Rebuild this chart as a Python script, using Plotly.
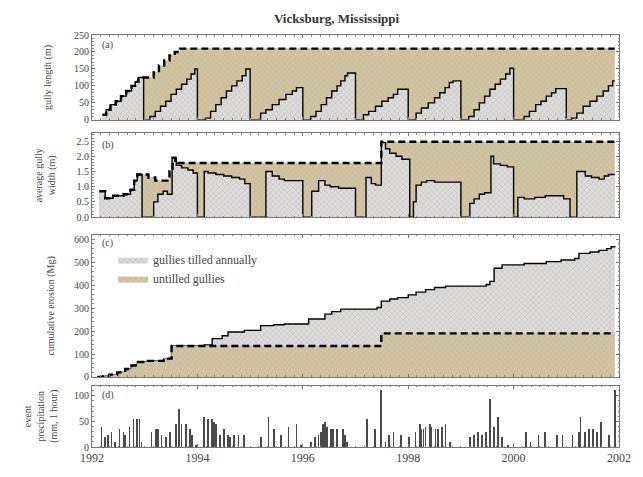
import plotly.graph_objects as go

# ---------------- data ----------------
# (a) gully length (m)
len_untilled_t = [1992.20, 1992.27, 1992.35, 1992.45, 1992.55, 1992.65, 1992.75, 1992.82, 1992.88,
                  1993.17, 1993.27, 1993.37, 1993.47, 1993.57, 1993.67, 2001.92]
len_untilled_v = [15, 30, 45, 55, 70, 85, 100, 112, 125,
                  140, 160, 175, 190, 200, 210, 210]

len_tilled_t = [1992.20, 1992.27, 1992.35, 1992.45, 1992.55, 1992.65, 1992.75, 1992.82, 1992.88, 1992.98,
                1993.10, 1993.20, 1993.30, 1993.40, 1993.50, 1993.60, 1993.70, 1993.80, 1993.88, 1993.95, 1994.00,
                1994.15, 1994.25, 1994.35, 1994.45, 1994.55, 1994.65, 1994.75, 1994.85, 1994.92, 1995.00,
                1995.20, 1995.30, 1995.42, 1995.55, 1995.68, 1995.80, 1995.88, 1996.00,
                1996.15, 1996.25, 1996.35, 1996.45, 1996.55, 1996.65, 1996.72, 1996.80, 1996.85, 1997.00,
                1997.15, 1997.25, 1997.38, 1997.50, 1997.62, 1997.72, 1997.80, 1998.00,
                1998.15, 1998.25, 1998.38, 1998.50, 1998.60, 1998.70, 1998.78, 1998.85, 1999.00,
                1999.15, 1999.25, 1999.35, 1999.45, 1999.55, 1999.65, 1999.75, 1999.85, 1999.93, 2000.00,
                2000.20, 2000.30, 2000.42, 2000.52, 2000.62, 2000.72, 2000.80, 2001.00,
                2001.10, 2001.20, 2001.32, 2001.45, 2001.58, 2001.70, 2001.80, 2001.88, 2001.92]
len_tilled_v = [15, 30, 45, 55, 70, 85, 100, 112, 125, 0,
                10, 25, 40, 55, 75, 90, 105, 120, 135, 150, 0,
                5, 25, 45, 65, 85, 100, 115, 130, 150, 0,
                20, 30, 45, 60, 75, 85, 95, 0,
                10, 25, 45, 65, 85, 100, 115, 130, 138, 0,
                15, 25, 40, 55, 65, 75, 90, 0,
                20, 35, 50, 65, 80, 95, 110, 115, 0,
                10, 30, 50, 70, 90, 105, 120, 135, 152, 0,
                10, 25, 45, 55, 70, 80, 92, 0,
                5, 20, 40, 55, 70, 85, 100, 115, 115]

# (b) average gully width (m)
wid_untilled_t = [1992.14, 1992.25, 1992.40, 1992.60, 1992.73, 1992.80, 1992.86, 1993.07, 1993.20,
                  1993.47, 1993.53, 1993.58, 1993.63, 1997.49, 2001.92]
wid_untilled_v = [0.85, 0.62, 0.70, 0.75, 0.90, 1.20, 1.40, 1.30, 1.20,
                  1.50, 1.95, 1.85, 1.78, 2.48, 2.48]

wid_tilled_t = [1992.14, 1992.25, 1992.40, 1992.60, 1992.73, 1992.80, 1992.86, 1992.95,
                1993.17, 1993.25, 1993.35, 1993.43, 1993.52, 1993.60, 1993.70, 1993.82, 1993.92, 1994.00,
                1994.13, 1994.20, 1994.35, 1994.50, 1994.65, 1994.80, 1994.90, 1995.00,
                1995.30, 1995.42, 1995.55, 1995.65, 1996.00,
                1996.17, 1996.30, 1996.42, 1996.52, 1996.68, 1997.00,
                1997.20, 1997.30, 1997.38, 1997.49, 1997.57, 1997.65, 1997.77, 1997.88, 1998.03,
                1998.10, 1998.15, 1998.25, 1998.35, 1998.50, 1999.00,
                1999.17, 1999.25, 1999.35, 1999.45, 1999.57, 1999.62, 1999.75, 1999.88, 2000.00,
                2000.08, 2000.20, 2000.40, 2000.60, 2000.95, 2001.07,
                2001.20, 2001.36, 2001.48, 2001.62, 2001.72, 2001.80, 2001.92]
wid_tilled_v = [0.85, 0.62, 0.70, 0.75, 0.90, 1.20, 1.40, 0,
                0.50, 0.75, 0.85, 0.75, 1.95, 1.70, 1.62, 1.55, 1.45, 0,
                1.50, 1.45, 1.40, 1.35, 1.30, 1.25, 1.10, 0,
                1.50, 1.35, 1.25, 1.20, 0,
                0.85, 1.20, 1.05, 1.00, 0.95, 0,
                1.30, 1.10, 1.05, 2.45, 2.25, 2.10, 2.00, 1.90, 0,
                0.50, 1.05, 1.15, 1.20, 1.15, 0,
                0.45, 0.60, 0.75, 0.80, 2.00, 1.75, 1.70, 1.65, 0,
                0.65, 0.60, 0.65, 0.70, 0.60, 0,
                1.50, 1.35, 1.30, 1.25, 1.35, 1.40, 1.40]

# (c) cumulative erosion (Mg)
ero_tilled_t = [1992.10, 1992.21, 1992.33, 1992.48, 1992.63, 1992.75, 1992.86, 1993.06, 1993.36, 1993.51,
                1994.13, 1994.28, 1994.47, 1994.58, 1994.89, 1995.20, 1995.45, 1995.65, 1996.11, 1996.42,
                1996.55, 1996.72, 1997.41, 1997.49, 1997.65, 1997.80, 1998.00, 1998.15, 1998.33, 1998.50,
                1998.71, 1999.48, 1999.55, 1999.63, 1999.78, 2000.20, 2000.62, 2000.90, 2001.16, 2001.24,
                2001.45, 2001.62, 2001.77, 2001.85, 2001.92]
ero_tilled_v = [0, 3, 10, 20, 35, 50, 65, 70, 80, 135,
                140, 167, 180, 196, 203, 224, 228, 231, 253, 274,
                285, 296, 303, 331, 340, 346, 358, 370, 381, 390,
                396, 403, 417, 474, 489, 495, 503, 510, 517, 539,
                545, 552, 560, 568, 571]

ero_untilled_t = [1992.10, 1992.21, 1992.33, 1992.48, 1992.63, 1992.75, 1992.86, 1993.06, 1993.36, 1993.51,
                  1997.49, 2001.92]
ero_untilled_v = [0, 3, 10, 20, 35, 50, 65, 70, 80, 135, 190, 190]

# (d) event precipitation (mm)
rain_t = [1992.18, 1992.25, 1992.31, 1992.37, 1992.44, 1992.52, 1992.60, 1992.63, 1992.71, 1992.79,
          1992.86, 1992.90, 1992.94, 1993.13, 1993.21, 1993.25, 1993.32, 1993.40, 1993.48, 1993.59,
          1993.65, 1993.70, 1993.78, 1993.86, 1993.90, 1993.97, 1994.13, 1994.20, 1994.28, 1994.32,
          1994.35, 1994.43, 1994.51, 1994.58, 1994.62, 1994.70, 1994.78, 1994.89, 1995.20, 1995.35,
          1995.46, 1995.58, 1995.73, 1995.88, 1995.96, 1996.15, 1996.23, 1996.30, 1996.34, 1996.38,
          1996.42, 1996.46, 1996.53, 1996.57, 1996.65, 1996.76, 1996.80, 1996.84, 1997.22, 1997.37,
          1997.49, 1997.57, 1997.64, 1997.72, 1997.87, 1998.02, 1998.14, 1998.22, 1998.25, 1998.29,
          1998.33, 1998.41, 1998.44, 1998.52, 1998.56, 1998.64, 1998.71, 1998.79, 1999.17, 1999.25,
          1999.32, 1999.40, 1999.48, 1999.55, 1999.63, 1999.71, 1999.78, 1999.90, 2000.24, 2000.32,
          2000.47, 2000.59, 2000.82, 2000.93, 2001.12, 2001.24, 2001.27, 2001.35, 2001.43, 2001.50,
          2001.58, 2001.66, 2001.81, 2001.93]
rain_v = [40, 20, 25, 30, 10, 35, 30, 25, 40, 55,
          55, 55, 10, 30, 35, 35, 25, 20, 30, 45,
          75, 45, 45, 35, 25, 5, 60, 55, 55, 50,
          45, 25, 35, 25, 20, 25, 25, 25, 20, 60,
          35, 25, 40, 45, 5, 10, 20, 25, 30, 45,
          50, 40, 35, 35, 35, 35, 25, 10, 55, 35,
          112, 10, 25, 30, 25, 20, 30, 45, 35, 35,
          40, 45, 40, 35, 35, 40, 45, 10, 20, 25,
          30, 25, 30, 95, 40, 60, 20, 5, 30, 10,
          25, 30, 25, 25, 25, 30, 60, 30, 35, 35,
          30, 50, 25, 112]

legend_names = ["gullies tilled annually", "untilled gullies"]
year_ticks = [1992, 1994, 1996, 1998, 2000, 2002]

# ---------------- styles ----------------
FONT = "Liberation Serif"
TAN_BG, GRAY_BG = "#d3c59f", "#dedcda"
TAN = dict(shape="x", bgcolor=TAN_BG, fgcolor="#a3a3a3", size=4, solidity=0.25)
GRAY = dict(shape="x", bgcolor=GRAY_BG, fgcolor="#9a9a9a", size=4, solidity=0.25)
solid = dict(color="black", width=1.4)

fig = go.Figure()


def filled(t, v, pattern, fillc, xax, yax, line=None):
    fig.add_trace(go.Scatter(
        x=t, y=v, mode="lines", line_shape="hv", fill="tozeroy",
        fillcolor=fillc, fillpattern=pattern,
        line=line if line else dict(width=0.5, color=fillc),
        xaxis=xax, yaxis=yax, showlegend=False, hoverinfo="skip"))


def dashed(t, v, xax, yax):
    fig.add_trace(go.Scatter(x=t, y=v, mode="lines", line_shape="hv",
                             line=dict(color="black", width=2.4, dash="7px,4px"),
                             xaxis=xax, yaxis=yax, showlegend=False, hoverinfo="skip"))


# (a)
filled(len_untilled_t, len_untilled_v, TAN, TAN_BG, "x2", "y")
filled(len_tilled_t, len_tilled_v, GRAY, GRAY_BG, "x2", "y", line=solid)
dashed(len_untilled_t, len_untilled_v, "x2", "y")
# (b)
filled(wid_untilled_t, wid_untilled_v, TAN, TAN_BG, "x3", "y2")
filled(wid_tilled_t, wid_tilled_v, GRAY, GRAY_BG, "x3", "y2", line=solid)
dashed(wid_untilled_t, wid_untilled_v, "x3", "y2")
# (c)
filled(ero_tilled_t, ero_tilled_v, GRAY, GRAY_BG, "x4", "y3", line=solid)
filled(ero_untilled_t, ero_untilled_v, TAN, TAN_BG, "x4", "y3")
dashed(ero_untilled_t, ero_untilled_v, "x4", "y3")
# legend-only swatches
for nm, pat, fc in [(legend_names[0], GRAY, GRAY_BG), (legend_names[1], TAN, TAN_BG)]:
    fig.add_trace(go.Scatter(x=[None], y=[None], mode="lines", fill="tozeroy", fillcolor=fc,
                             fillpattern=pat, line=dict(width=0, color=fc), name=nm,
                             xaxis="x4", yaxis="y3", showlegend=True))
# (d)
fig.add_trace(go.Bar(x=rain_t, y=rain_v, width=0.014, marker=dict(color="#4a4a4a", line=dict(width=0)),
                     xaxis="x", yaxis="y4", showlegend=False, hoverinfo="skip"))

tickfont = dict(family=FONT, size=10, color="#444")
titlefont = dict(family=FONT, size=10, color="#444")
axis_common = dict(showline=True, linecolor="#777", linewidth=1, mirror="allticks",
                   ticks="inside", ticklen=3, tickcolor="#777", showgrid=False, zeroline=False,
                   tickfont=tickfont)
xminor = dict(dtick=1 / 6, ticklen=1.5, tickcolor="#888", ticks="inside")
yminor = lambda d: dict(dtick=d, ticklen=1.5, tickcolor="#888", ticks="inside")

fig.update_layout(
    width=643, height=477,
    margin=dict(l=92, r=16, t=35, b=19),
    paper_bgcolor="white", plot_bgcolor="white",
    font=dict(family=FONT, size=10, color="#333"),
    title=dict(text="<b>Vicksburg, Mississippi</b>", x=0.464, xanchor="center", xref="paper",
               y=1 - 18 / 477, yanchor="middle", font=dict(family=FONT, size=13, color="#333")),
    bargap=0,
    legend=dict(x=0.04, y=0.49, xanchor="left", yanchor="top", bgcolor="rgba(0,0,0,0)",
                font=dict(family=FONT, size=12, color="#444"), itemwidth=30, tracegroupgap=0),
    xaxis=dict(range=[1992, 2002], anchor="y4", tickvals=year_ticks, ticklabeloverflow="allow",
               minor=xminor, **{**axis_common, "tickfont": dict(family=FONT, size=12, color="#444")}),
    xaxis2=dict(range=[1992, 2002], matches="x", anchor="y", tickvals=year_ticks,
                showticklabels=False, minor=xminor, **axis_common),
    xaxis3=dict(range=[1992, 2002], matches="x", anchor="y2", tickvals=year_ticks,
                showticklabels=False, minor=xminor, **axis_common),
    xaxis4=dict(range=[1992, 2002], matches="x", anchor="y3", tickvals=year_ticks,
                showticklabels=False, minor=xminor, **axis_common),
    yaxis=dict(domain=[0.794, 1.0], range=[0, 250], dtick=50, anchor="x2", minor=yminor(10),
               title=dict(text="gully length (m)", font=titlefont, standoff=20), **axis_common),
    yaxis2=dict(domain=[0.558, 0.761], range=[0, 2.75], dtick=0.5, tickformat=".1f", anchor="x3",
                minor=yminor(0.1),
                title=dict(text="average gully<br>width (m)", font=titlefont, standoff=18), **axis_common),
    yaxis3=dict(domain=[0.170, 0.515], range=[0, 620], dtick=100, anchor="x4", minor=yminor(20),
                title=dict(text="cumulative erosion (Mg)", font=titlefont, standoff=17), **axis_common),
    yaxis4=dict(domain=[0.0, 0.149], range=[0, 120], dtick=50, anchor="x", minor=yminor(10),
                title=dict(text="event<br>precipitation<br>(mm, 1 hour)", font=titlefont, standoff=14),
                **axis_common),
)

for lab, xref, yref, yy in [("(a)", "x2", "y", 0.88), ("(b)", "x3", "y2", 0.86),
                            ("(c)", "x4", "y3", 0.94), ("(d)", "x", "y4", 0.84)]:
    fig.add_annotation(text=lab, xref=f"{xref} domain", yref=f"{yref} domain", x=0.015, y=yy,
                       xanchor="left", yanchor="middle", showarrow=False,
                       font=dict(family=FONT, size=10, color="#444"))

fig.write_html("out.html", post_script="document.body.style.margin='0';",
               config={"displayModeBar": False})
